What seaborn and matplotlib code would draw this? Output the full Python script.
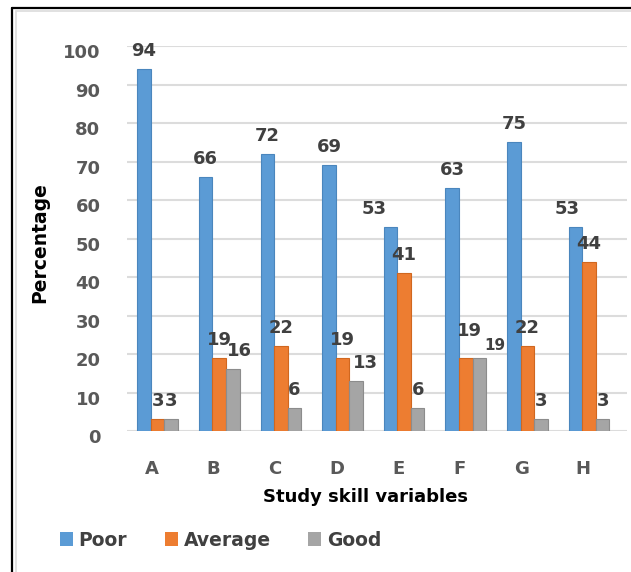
#%% import libraries
import pandas as pd
import seaborn as sns
import matplotlib.pyplot as plt
import matplotlib.transforms as mtransforms
from matplotlib.patches import Patch
from matplotlib.lines import Line2D

#%% data
skills = ['A', 'B', 'C', 'D', 'E', 'F', 'G', 'H']
poor = [94, 66, 72, 69, 53, 63, 75, 53]
average = [3, 19, 22, 19, 41, 19, 22, 44]
good = [3, 16, 6, 13, 6, 19, 3, 3]
levels = ['Poor', 'Average', 'Good']
y_ticks = [0, 10, 20, 30, 40, 50, 60, 70, 80, 90, 100]

colors = ['#5B9BD5', '#ED7D31', '#A5A5A5']
edges = ['#4a86bd', '#d0671f', '#8c8c8c']

df = pd.DataFrame({
    'skill': skills * 3,
    'level': [l for l in levels for _ in skills],
    'value': poor + average + good,
})

#%% plot
sns.set_theme(style='white')
plt.rcParams['font.family'] = ['DejaVu Sans']

fig = plt.figure(figsize=(6.31, 5.72), dpi=100)
ax = fig.add_axes([0.201, 0.2465, 0.793, 0.673])

sns.barplot(data=df, x='skill', y='value', hue='level', palette=colors,
            width=0.66, saturation=1, legend=False, ax=ax)

# label nudges (points) where Excel moved labels apart
nudge = {(0, 4): (-12, 0), (0, 7): (-6, 0), (1, 5): (3, 6), (2, 5): (11, -4),
         (2, 1): (5, 0), (2, 3): (7, 0)}

for i, cont in enumerate(ax.containers):
    for j, bar in enumerate(cont):
        bar.set_edgecolor(edges[i])
        bar.set_linewidth(0.8)
        h = bar.get_height()
        dx, dy = nudge.get((i, j), (0, 0))
        ax.annotate(f'{h:.0f}', (bar.get_x() + bar.get_width() / 2, h),
                    xytext=(dx, 13 + dy), textcoords='offset points',
                    ha='center', va='center', fontweight='bold',
                    fontsize=11 if (i, j) == (2, 5) else 13, color='#404040')

ax.set_ylim(0, 100)
ax.set_xlim(-0.5, 7.62)
ax.set_yticks(y_ticks)
ax.yaxis.grid(True, color='#dcdcdc', lw=1.5)
ax.set_axisbelow(True)
for s in ax.spines.values():
    s.set_visible(False)
ax.set_xlabel('')
ax.set_ylabel('')
ax.tick_params(axis='y', length=0, pad=19, labelsize=13, labelcolor='#595959')
ax.tick_params(axis='x', length=0, pad=21, labelsize=13, labelcolor='#595959')
for t in ax.get_yticklabels() + ax.get_xticklabels():
    t.set_fontweight('bold')
for t in ax.get_yticklabels():
    t.set_transform(t.get_transform() + mtransforms.ScaledTranslation(0, -5 / 100, fig.dpi_scale_trans))
for t in ax.get_xticklabels():
    t.set_transform(t.get_transform() + mtransforms.ScaledTranslation(-6 / 100, 0, fig.dpi_scale_trans))

fig.text(366 / 631, 1 - 497 / 572, 'Study skill variables', ha='center', va='center',
         fontsize=13, fontweight='bold', color='black')
fig.text(40 / 631, 1 - 243 / 572, 'Percentage', ha='center', va='center', rotation=90,
         fontsize=13.5, fontweight='bold', color='black')

handles = [Patch(facecolor=c, edgecolor='none') for c in colors]
fig.legend(handles, levels, loc='center left', bbox_to_anchor=(60 / 631, 1 - 540 / 572),
           ncol=3, frameon=False, borderpad=0, borderaxespad=0,
           handlelength=0.7, handleheight=0.7, handletextpad=0.3, columnspacing=2.0,
           prop={'size': 13.5, 'weight': 'bold'}, labelcolor='#404040')

# frame lines (left and top)
fig.add_artist(Line2D([12 / 631, 12 / 631], [0, 1 - 8 / 572], transform=fig.transFigure, color='black', lw=1.6))
fig.add_artist(Line2D([12 / 631, 1], [1 - 8 / 572, 1 - 8 / 572], transform=fig.transFigure, color='black', lw=1.6))
fig.add_artist(Line2D([16 / 631, 16 / 631], [0, 1 - 11 / 572], transform=fig.transFigure, color='#dcdcdc', lw=1.2))
fig.add_artist(Line2D([16 / 631, 1], [1 - 11 / 572, 1 - 11 / 572], transform=fig.transFigure, color='#dcdcdc', lw=1.2))

fig.savefig('out.png', dpi=100)
